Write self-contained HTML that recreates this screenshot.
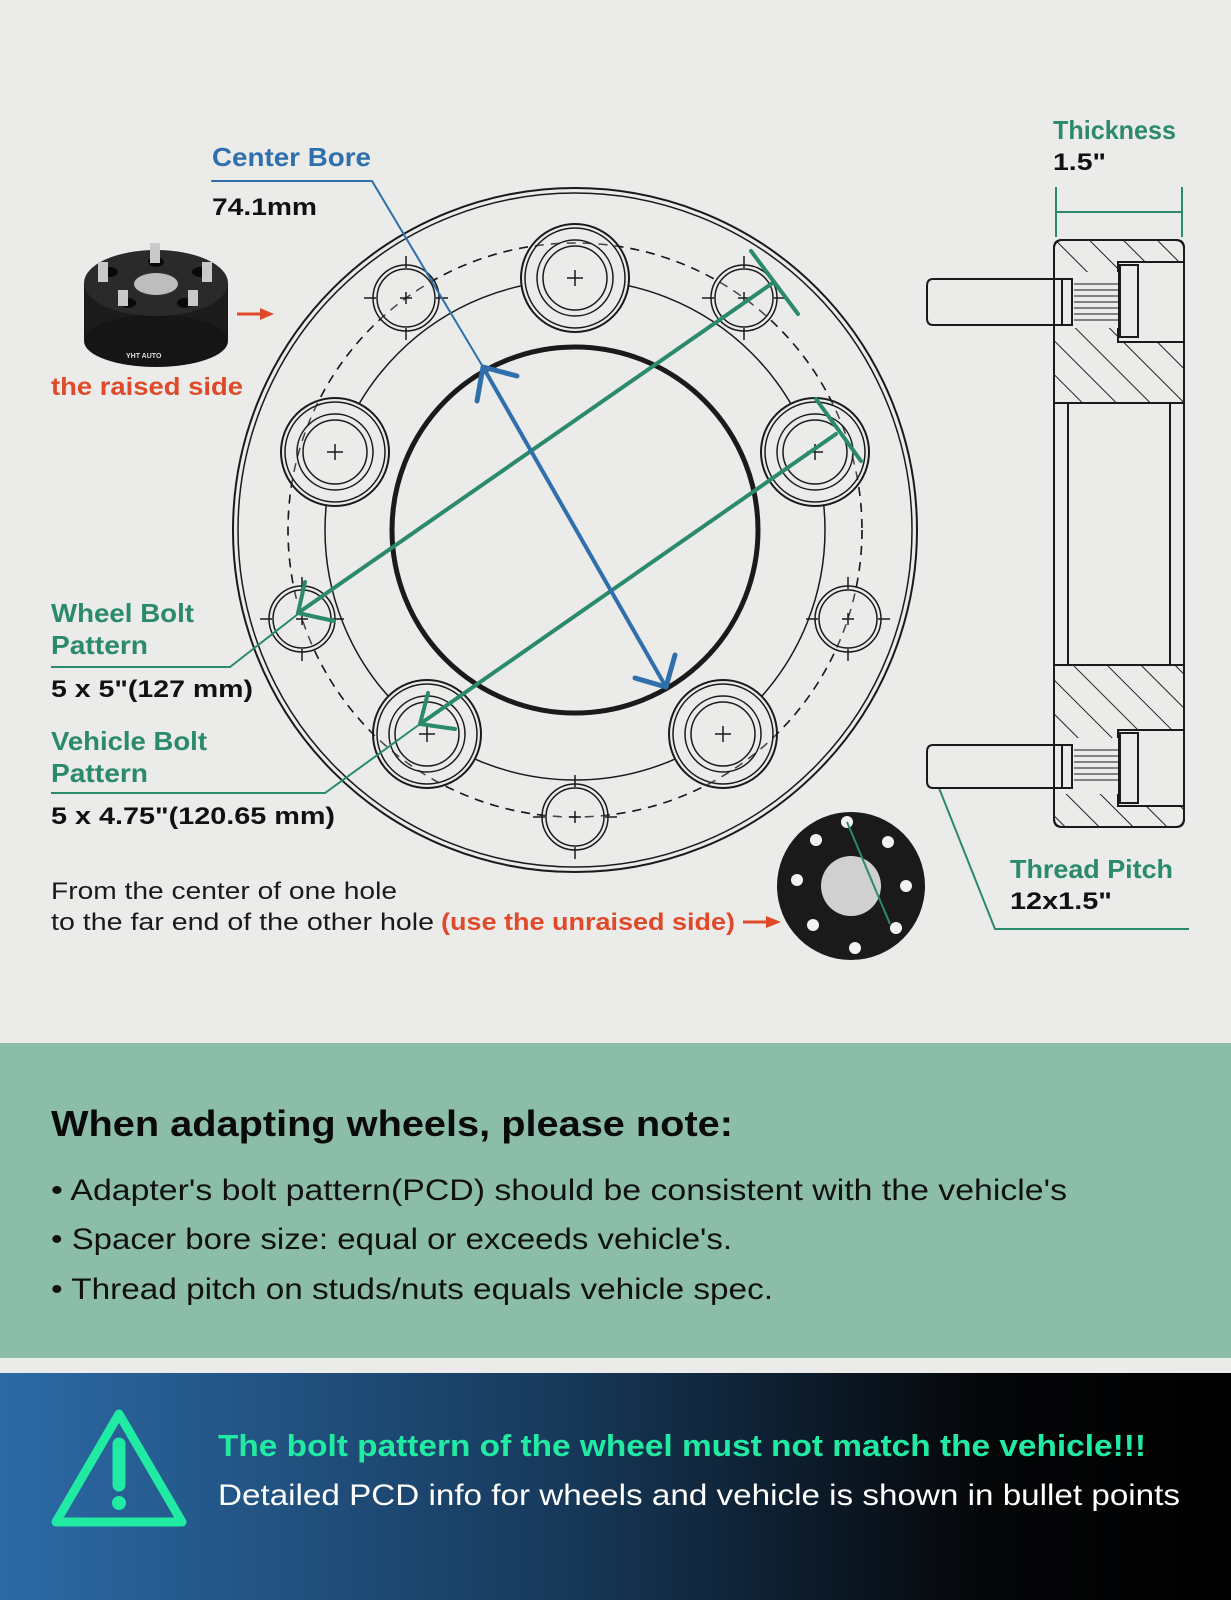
<!DOCTYPE html>
<html><head><meta charset="utf-8"><style>
html,body{margin:0;padding:0;background:#ebebe9;}
svg{display:block}
text{font-family:"Liberation Sans",sans-serif;}
</style></head><body>
<svg width="1231" height="1600" viewBox="0 0 1231 1600" xmlns="http://www.w3.org/2000/svg">
<defs>
<pattern id="hatch" patternUnits="userSpaceOnUse" width="24" height="24" patternTransform="rotate(-45)">
<rect width="24" height="24" fill="#ebebe9"/><line x1="0" y1="0" x2="0" y2="24" stroke="#222" stroke-width="2"/>
</pattern>
<linearGradient id="ban" x1="0" y1="0" x2="1" y2="0">
<stop offset="0" stop-color="#2c6aa6"/><stop offset="0.45" stop-color="#173a5c"/><stop offset="0.8" stop-color="#050608"/><stop offset="1" stop-color="#000"/>
</linearGradient>
<g id="bh" fill="none" stroke="#1a1a1a">
<circle cx="0" cy="0" r="54" stroke-width="2" fill="#ebebe9"/>
<circle cx="0" cy="0" r="50" stroke-width="1.5"/>
<circle cx="0" cy="0" r="38" stroke-width="1.5"/>
<circle cx="0" cy="0" r="32" stroke-width="1.5"/>
<path d="M-8 0H8M0 -8V8" stroke-width="1.5"/>
</g>
<g id="sh" fill="none" stroke="#1a1a1a">
<circle cx="0" cy="0" r="33" stroke-width="1.5" fill="#ebebe9"/>
<circle cx="0" cy="0" r="29" stroke-width="1.5"/>
<path d="M-42 0H-30M30 0H42M0 -42V-30M0 30V42M-6 0H6M0 -6V6" stroke-width="1.5"/>
</g>
</defs>
<rect width="1231" height="1043" fill="#ebebe9"/>

<g fill="none" stroke="#1a1a1a">
<circle cx="575" cy="530" r="342" stroke-width="2"/>
<circle cx="575" cy="530" r="337" stroke-width="1.5"/>
<circle cx="575" cy="530" r="287" stroke-width="1.5" stroke-dasharray="9 7"/>
<circle cx="575" cy="530" r="250" stroke-width="1.5"/>
<circle cx="575" cy="530" r="183" stroke-width="5"/>
</g>
<use href="#bh" transform="translate(575,278)"/>
<use href="#bh" transform="translate(815,452)"/>
<use href="#bh" transform="translate(723,734)"/>
<use href="#bh" transform="translate(427,734)"/>
<use href="#bh" transform="translate(335,452)"/>
<use href="#sh" transform="translate(575,817)"/>
<use href="#sh" transform="translate(302,619)"/>
<use href="#sh" transform="translate(406,298)"/>
<use href="#sh" transform="translate(744,298)"/>
<use href="#sh" transform="translate(848,619)"/>
<circle cx="575" cy="530" r="287" fill="none" stroke="#1a1a1a" stroke-width="1.5" stroke-dasharray="9 7" opacity="0.8"/>

<g stroke="#2b8a6a" stroke-width="4" fill="none" stroke-linecap="round" stroke-linejoin="round">
<line x1="774" y1="282" x2="298" y2="613"/>
<line x1="751" y1="251" x2="798" y2="314"/>
<polyline points="334,621 298,613 305,582"/>
<line x1="836" y1="434" x2="420" y2="724"/>
<line x1="816" y1="399" x2="861" y2="461"/>
<polyline points="455,729 420,724 428,693"/>
</g>
<g stroke="#2b8a6a" stroke-width="2" fill="none">
<polyline points="51,667 230,667 298,614"/>
<polyline points="51,793 325,793 420,724"/>
<polyline points="939,788 995,929 1189,929"/>
<path d="M1056 187V237M1182 187V237M1056 212H1182"/>
</g>
<g stroke="#2f6fab" fill="none" stroke-linecap="round" stroke-linejoin="round">
<polyline points="212,181 372,181 483,367" stroke-width="2"/>
<line x1="483" y1="367" x2="666" y2="687" stroke-width="4"/>
<polyline points="517,376 483,367 477,401" stroke-width="5"/>
<polyline points="635,678 666,687 675,655" stroke-width="5"/>
</g>

<g stroke="#1a1a1a" stroke-width="2">
<path d="M1062 240H1176Q1184 240 1184 248V403H1054V248Q1054 240 1062 240Z" fill="url(#hatch)"/>
<path d="M1054 665H1184V819Q1184 827 1176 827H1062Q1054 827 1054 819Z" fill="url(#hatch)"/>
<rect x="1054" y="403" width="130" height="262" fill="#ebebe9"/>
<line x1="1068" y1="403" x2="1068" y2="665"/>
<line x1="1170" y1="403" x2="1170" y2="665"/>
<rect x="1118" y="262" width="66" height="80" fill="#ebebe9"/>
<rect x="1120" y="265" width="18" height="72" fill="#ebebe9"/>
<rect x="1054" y="272" width="64" height="56" fill="#ebebe9" stroke="none"/>
<rect x="1118" y="730" width="66" height="76" fill="#ebebe9"/>
<rect x="1120" y="733" width="18" height="70" fill="#ebebe9"/>
<rect x="1054" y="738" width="64" height="56" fill="#ebebe9" stroke="none"/>
<path d="M933 279H1072V325H933Q927 325 927 318V286Q927 279 933 279Z" fill="#ebebe9"/>
<path d="M933 745H1072V788H933Q927 788 927 781V752Q927 745 933 745Z" fill="#ebebe9"/>
<line x1="1062" y1="279" x2="1062" y2="325"/><line x1="1062" y1="745" x2="1062" y2="788"/>
</g>
<g stroke="#1a1a1a" stroke-width="1">
<path d="M1074 284H1118M1074 290H1118M1074 296H1118M1074 302H1118M1074 308H1118M1074 314H1118M1074 320H1118"/>
<path d="M1074 750H1118M1074 756H1118M1074 762H1118M1074 768H1118M1074 774H1118M1074 780H1118"/>
</g>
<rect x="1054" y="240" width="130" height="587" rx="8" fill="none" stroke="#1a1a1a" stroke-width="2"/>

<g>
<rect x="84" y="283" width="144" height="58" fill="#1b1b1b"/>
<ellipse cx="156" cy="341" rx="72" ry="26" fill="#151515"/>
<ellipse cx="156" cy="283" rx="72" ry="33" fill="#2a2a2a"/>
<ellipse cx="156" cy="284" rx="22" ry="11" fill="#bdbdbd"/>
<g fill="#090909"><ellipse cx="110" cy="272" rx="8" ry="5"/><ellipse cx="200" cy="272" rx="8" ry="5"/><ellipse cx="128" cy="303" rx="8" ry="5"/><ellipse cx="185" cy="303" rx="8" ry="5"/><ellipse cx="156" cy="262" rx="8" ry="5"/></g>
<g fill="#c9c9c9"><rect x="98" y="262" width="10" height="20"/><rect x="150" y="243" width="10" height="20"/><rect x="202" y="262" width="10" height="20"/><rect x="118" y="290" width="10" height="16"/><rect x="188" y="290" width="10" height="16"/></g>
<text x="126" y="358" font-size="7" fill="#ddd" font-weight="bold">YHT AUTO</text>
</g>
<g stroke="#e04a2a" stroke-width="3" fill="#e04a2a"><line x1="237" y1="314" x2="262" y2="314"/><polygon points="260,308 274,314 260,320" stroke="none"/></g>

<g>
<circle cx="851" cy="886" r="74" fill="#1a1a1a"/>
<circle cx="851" cy="886" r="30" fill="#d0d0d0"/>
<g fill="#f2f2f2"><circle cx="847" cy="822" r="6"/><circle cx="816" cy="840" r="6"/><circle cx="797" cy="880" r="6"/><circle cx="813" cy="925" r="6"/><circle cx="855" cy="948" r="6"/><circle cx="896" cy="928" r="6"/><circle cx="906" cy="886" r="6"/><circle cx="888" cy="842" r="6"/></g>
<line x1="847" y1="822" x2="890" y2="924" stroke="#2b8a6a" stroke-width="2"/>
</g>
<g stroke="#e04a2a" stroke-width="3" fill="#e04a2a"><line x1="743" y1="922" x2="768" y2="922"/><polygon points="766,916 781,922 766,928" stroke="none"/></g>

<g font-weight="bold">
<text x="212" y="166" font-size="26" fill="#2f6fab" textLength="159" lengthAdjust="spacingAndGlyphs">Center Bore</text>
<text x="212" y="215" font-size="24" fill="#111" textLength="105" lengthAdjust="spacingAndGlyphs">74.1mm</text>
<text x="1053" y="139" font-size="26" fill="#2b8a6a" textLength="123" lengthAdjust="spacingAndGlyphs">Thickness</text>
<text x="1053" y="170" font-size="24" fill="#111" textLength="53" lengthAdjust="spacingAndGlyphs">1.5"</text>
<text x="51" y="395" font-size="25" fill="#e04a2a" textLength="192" lengthAdjust="spacingAndGlyphs">the raised side</text>
<text x="51" y="622" font-size="26" fill="#2b8a6a" textLength="143" lengthAdjust="spacingAndGlyphs">Wheel Bolt</text>
<text x="51" y="654" font-size="26" fill="#2b8a6a" textLength="97" lengthAdjust="spacingAndGlyphs">Pattern</text>
<text x="51" y="697" font-size="24" fill="#111" textLength="202" lengthAdjust="spacingAndGlyphs">5 x 5"(127 mm)</text>
<text x="51" y="750" font-size="26" fill="#2b8a6a" textLength="156" lengthAdjust="spacingAndGlyphs">Vehicle Bolt</text>
<text x="51" y="782" font-size="26" fill="#2b8a6a" textLength="97" lengthAdjust="spacingAndGlyphs">Pattern</text>
<text x="51" y="824" font-size="24" fill="#111" textLength="284" lengthAdjust="spacingAndGlyphs">5 x 4.75"(120.65 mm)</text>
<text x="1010" y="878" font-size="26" fill="#2b8a6a" textLength="163" lengthAdjust="spacingAndGlyphs">Thread Pitch</text>
<text x="1010" y="909" font-size="24" fill="#111" textLength="102" lengthAdjust="spacingAndGlyphs">12x1.5"</text>
<text x="441" y="930" font-size="24" fill="#e04a2a" textLength="294" lengthAdjust="spacingAndGlyphs">(use the unraised side)</text>
</g>
<text x="51" y="899" font-size="24" fill="#1a1a1a" textLength="346" lengthAdjust="spacingAndGlyphs">From the center of one hole</text>
<text x="51" y="930" font-size="24" fill="#1a1a1a" textLength="383" lengthAdjust="spacingAndGlyphs">to the far end of the other hole</text>

<rect x="0" y="1043" width="1231" height="315" fill="#8bbda9"/>
<text x="51" y="1136" font-size="36" font-weight="bold" fill="#0a0a0a" textLength="682" lengthAdjust="spacingAndGlyphs">When adapting wheels, please note:</text>
<g font-size="30" fill="#111">
<text x="51" y="1200" textLength="1016" lengthAdjust="spacingAndGlyphs">• Adapter's bolt pattern(PCD) should be consistent with the vehicle's</text>
<text x="51" y="1249" textLength="681" lengthAdjust="spacingAndGlyphs">• Spacer bore size: equal or exceeds vehicle's.</text>
<text x="51" y="1299" textLength="722" lengthAdjust="spacingAndGlyphs">• Thread pitch on studs/nuts equals vehicle spec.</text>
</g>

<rect x="0" y="1373" width="1231" height="227" fill="url(#ban)"/>
<path d="M119 1414 L182 1522 L56 1522 Z" fill="none" stroke="#21eaa3" stroke-width="9" stroke-linejoin="round"/>
<line x1="119" y1="1444" x2="119" y2="1485" stroke="#21eaa3" stroke-width="13" stroke-linecap="round"/>
<circle cx="119" cy="1503" r="7" fill="#21eaa3"/>
<text x="218" y="1456" font-size="31" font-weight="bold" fill="#21eaa3" textLength="928" lengthAdjust="spacingAndGlyphs">The bolt pattern of the wheel must not match the vehicle!!!</text>
<text x="218" y="1505" font-size="30" fill="#ffffff" textLength="962" lengthAdjust="spacingAndGlyphs">Detailed PCD info for wheels and vehicle is shown in bullet points</text>
</svg>
</body></html>
